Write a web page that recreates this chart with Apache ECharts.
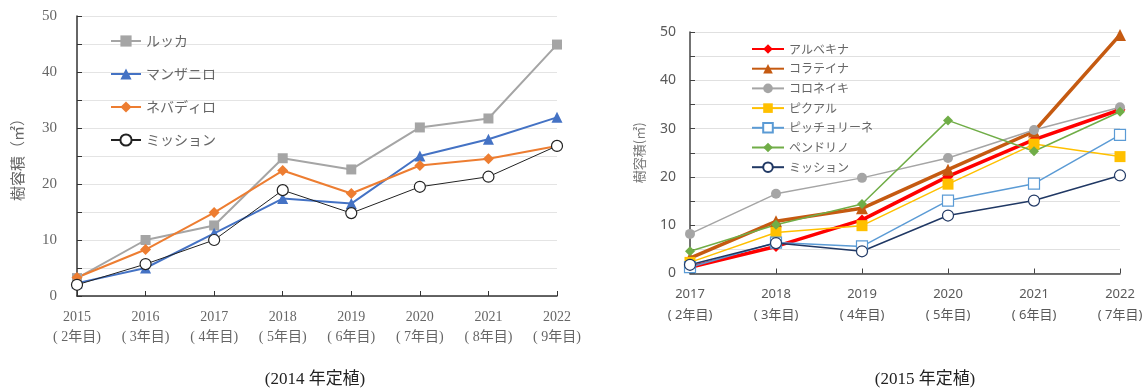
<!DOCTYPE html>
<html>
<head>
<meta charset="utf-8">
<script src="https://cdn.jsdelivr.net/npm/echarts@6/dist/echarts.min.js"></script>
<style>
  html, body { margin: 0; padding: 0; background: #fff; }
  #chart { width: 1147px; height: 391px; }
</style>
</head>
<body>
<div id="chart"></div>
<script>
// 2014年定植
const yearsA = ['2015', '2016', '2017', '2018', '2019', '2020', '2021', '2022']
const agesA = ['2年目', '3年目', '4年目', '5年目', '6年目', '7年目', '8年目', '9年目']
const lucca = [3.2, 10.0, 12.6, 24.6, 22.6, 30.1, 31.7, 44.9]
const manzanillo = [2.3, 5.0, 11.2, 17.4, 16.5, 25.0, 28.0, 31.9]
const nevadillo = [3.3, 8.3, 14.9, 22.4, 18.3, 23.3, 24.5, 26.8]
const missionA = [2.0, 5.7, 10.0, 18.9, 14.8, 19.5, 21.3, 26.8]

// 2015年定植
const yearsB = ['2017', '2018', '2019', '2020', '2021', '2022']
const agesB = ['2年目', '3年目', '4年目', '5年目', '6年目', '7年目']
const arbequina = [1.3, 5.6, 11.1, 20.1, 27.7, 33.9]
const coratina = [3.2, 10.8, 13.5, 21.5, 29.4, 49.4]
const koroneiki = [8.2, 16.5, 19.8, 23.9, 29.7, 34.4]
const picual = [2.3, 8.5, 9.9, 18.5, 26.8, 24.2]
const picholine = [1.3, 6.4, 5.6, 15.1, 18.6, 28.7]
const pendolino = [4.6, 10.1, 14.4, 31.7, 25.3, 33.5]
const missionB = [1.8, 6.3, 4.6, 12.0, 15.1, 20.3]

const chart = echarts.init(document.getElementById('chart'))

const serifA = 'Liberation Serif, Noto Sans CJK JP'
const sansB = 'Noto Sans, Noto Sans CJK JP'

function makeLine(idx, name, data, color, symbol, size, width, empty) {
  return {
    name: name, type: 'line', xAxisIndex: idx, yAxisIndex: idx, data: data,
    symbol: symbol, symbolSize: size,
    lineStyle: { color: color, width: width },
    itemStyle: { color: empty ? '#fff' : color, borderColor: color, borderWidth: empty ? 1.2 : 0 }
  }
}

const option = {
  animation: false,
  title: [
    { text: '(2014 年定植)', left: 310, top: 366, textAlign: 'center',
      textStyle: { fontFamily: serifA, fontSize: 17, fontWeight: 'normal', color: '#222' } },
    { text: '(2015 年定植)', left: 920, top: 366, textAlign: 'center',
      textStyle: { fontFamily: serifA, fontSize: 17, fontWeight: 'normal', color: '#222' } }
  ],
  legend: [
    {
      data: ['ルッカ', 'マンザニロ', 'ネバディロ', 'ミッション'],
      orient: 'vertical', left: 110, top: 34, padding: 0,
      itemWidth: 30, itemHeight: 14, itemGap: 19,
      textStyle: { color: '#666', fontSize: 14, fontFamily: 'Noto Sans CJK JP' }
    },
    {
      data: ['アルベキナ', 'コラテイナ', 'コロネイキ', 'ピクアル', 'ピッチョリーネ', 'ペンドリノ', 'ミッション '],
      orient: 'vertical', left: 751, top: 43, padding: 0,
      itemWidth: 32, itemHeight: 12, itemGap: 7.7,
      textStyle: { color: '#666', fontSize: 12, fontFamily: 'Noto Sans CJK JP' }
    }
  ],
  grid: [
    { left: 77, top: 16, width: 480, height: 280 },
    { left: 690, top: 32, width: 430, height: 241.5 }
  ],
  xAxis: [
    {
      type: 'category', gridIndex: 0, data: yearsA, boundaryGap: false,
      axisLine: { lineStyle: { color: '#333', width: 1.5 } },
      axisTick: { inside: true, length: 5, lineStyle: { color: '#333' } },
      axisLabel: {
        margin: 11, color: '#666', fontFamily: serifA, fontSize: 14, lineHeight: 20,
        formatter: (v, i) => v + '\n( ' + agesA[i] + ')'
      }
    },
    {
      type: 'category', gridIndex: 1, data: yearsB, boundaryGap: false,
      axisLine: { lineStyle: { color: '#444', width: 1.5 } },
      axisTick: { inside: true, length: 5, lineStyle: { color: '#444' } },
      axisLabel: {
        margin: 10, color: '#595959', fontFamily: sansB, fontSize: 13, lineHeight: 21,
        formatter: (v, i) => v + '\n( ' + agesB[i] + ')'
      }
    }
  ],
  yAxis: [
    {
      type: 'value', gridIndex: 0, min: 0, max: 50, interval: 5,
      name: '樹容積（㎡）', nameLocation: 'middle', nameGap: 52,
      nameTextStyle: { color: '#666', fontSize: 15, fontFamily: 'Noto Sans CJK JP' },
      axisLine: { show: true, lineStyle: { color: '#333', width: 1.5 } },
      axisTick: { show: true, inside: true, length: 5, lineStyle: { color: '#333' } },
      axisLabel: {
        margin: 20, color: '#666', fontFamily: serifA, fontSize: 15,
        formatter: v => (v % 10 === 0 ? v : '')
      },
      splitLine: { lineStyle: { color: '#e4e4e4', width: 1 } }
    },
    {
      type: 'value', gridIndex: 1, min: 0, max: 50, interval: 5,
      name: '樹容積(㎡)', nameLocation: 'middle', nameGap: 44,
      nameTextStyle: { color: '#777', fontSize: 13, fontFamily: 'Noto Sans CJK JP' },
      axisLine: { show: true, lineStyle: { color: '#444', width: 1.5 } },
      axisTick: { show: true, inside: true, length: 5, lineStyle: { color: '#444' } },
      axisLabel: {
        margin: 14, color: '#595959', fontFamily: sansB, fontSize: 14,
        formatter: v => (v % 10 === 0 ? v : '')
      },
      splitLine: { lineStyle: { color: '#e0e0e0', width: 1 } }
    }
  ],
  series: [
    makeLine(0, 'ルッカ', lucca, '#a5a5a5', 'rect', 10, 2),
    makeLine(0, 'マンザニロ', manzanillo, '#4472c4', 'triangle', 11, 2),
    makeLine(0, 'ネバディロ', nevadillo, '#ed7d31', 'diamond', 11, 2),
    makeLine(0, 'ミッション', missionA, '#222', 'circle', 11, 1, true),

    makeLine(1, 'アルベキナ', arbequina, '#ff0000', 'diamond', 11, 3.5),
    makeLine(1, 'コラテイナ', coratina, '#c55a11', 'triangle', 12, 3.5),
    makeLine(1, 'コロネイキ', koroneiki, '#a5a5a5', 'circle', 10, 1.5),
    makeLine(1, 'ピクアル', picual, '#ffc000', 'rect', 11, 1.5),
    makeLine(1, 'ピッチョリーネ', picholine, '#5b9bd5', 'rect', 11, 1.5, true),
    makeLine(1, 'ペンドリノ', pendolino, '#70ad47', 'diamond', 10, 1.5),
    makeLine(1, 'ミッション ', missionB, '#203864', 'circle', 11, 1.5, true)
  ]
}

chart.setOption(option)
</script>
</body>
</html>
